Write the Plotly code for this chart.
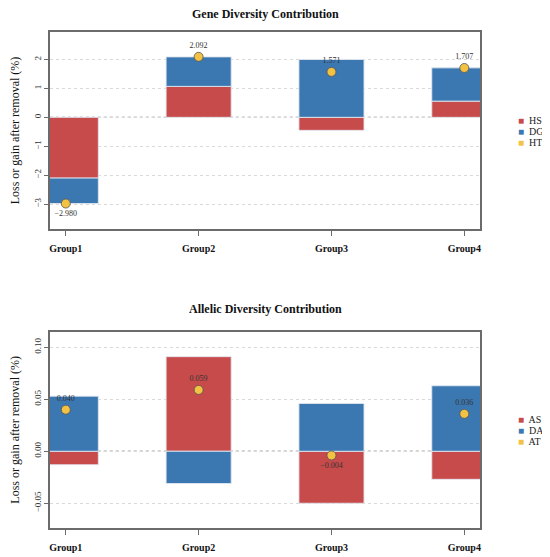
import plotly.graph_objects as go
from plotly.subplots import make_subplots

groups = ["Group1", "Group2", "Group3", "Group4"]

# gene diversity parts (%)
hs = [-2.10, 1.07, -0.45, 0.56]
dg = [-0.88, 1.02, 2.00, 1.15]
ht = [-2.980, 2.092, 1.571, 1.707]

# allelic diversity parts (%)
as_vals = [-0.013, 0.091, -0.050, -0.027]
da = [0.053, -0.031, 0.046, 0.063]
at = [0.040, 0.059, -0.004, 0.036]

gene_names = ["HS", "DG", "HT"]
allelic_names = ["AS", "DA", "AT"]

RED = "#C84B4C"
BLUE = "#3B78B2"
GOLD = "#F4C242"
EDGE = "rgba(225,232,240,0.9)"
FONT = "Liberation Serif, Times New Roman, serif"

# page body has an 8px margin, so the figure is a bit smaller than the window
PAD = 8
W, H = 550 - PAD, 557 - PAD


def px(x):
    return (x - PAD) / W


def py(y):
    return 1 - (y - PAD) / H


def fmt(v):
    return f"{v:.3f}".replace("-", "\u2212")


def add_panel(fig, row, s_vals, d_vals, t_vals, names):
    fig.add_trace(go.Bar(x=groups, y=s_vals, name=names[0], width=0.49,
                         marker=dict(color=RED, line=dict(color=EDGE, width=1)),
                         showlegend=False), row=row, col=1)
    fig.add_trace(go.Bar(x=groups, y=d_vals, name=names[1], width=0.49,
                         marker=dict(color=BLUE, line=dict(color=EDGE, width=1)),
                         showlegend=False), row=row, col=1)
    pos = ["top center" if v >= 0 else "bottom center" for v in t_vals]
    fig.add_trace(go.Scatter(x=groups, y=t_vals, name=names[2], mode="markers+text",
                             text=[fmt(v) for v in t_vals], textposition=pos,
                             textfont=dict(size=8, color="#333333", family=FONT),
                             marker=dict(size=9, color=GOLD, line=dict(color="#555555", width=0.8)),
                             showlegend=False, cliponaxis=False), row=row, col=1)


fig = make_subplots(rows=2, cols=1)
add_panel(fig, 1, hs, dg, ht, gene_names)
add_panel(fig, 2, as_vals, da, at, allelic_names)

xdom = [px(49), px(481)]
fig.update_layout(
    width=W, height=H,
    margin=dict(l=0, r=0, t=0, b=0),
    barmode="relative",
    plot_bgcolor="white", paper_bgcolor="white",
    font=dict(family=FONT, color="#222222"),
    xaxis=dict(domain=xdom, anchor="y"),
    xaxis2=dict(domain=xdom, anchor="y2"),
    yaxis=dict(domain=[py(229), py(32)], range=[-3.86, 2.95], dtick=1, anchor="x"),
    yaxis2=dict(domain=[py(528), py(331.7)], range=[-0.0738, 0.115], dtick=0.05,
                tickformat=".2f", anchor="x2"),
)

for ax in ["xaxis", "xaxis2"]:
    fig.layout[ax].update(range=[-0.12, 3.12], showline=True, mirror=True, linecolor="#6b6b6b",
                          linewidth=1.5, ticks="outside", ticklen=5, tickcolor="#6b6b6b",
                          showgrid=False, ticklabelstandoff=4,
                          tickfont=dict(size=10, weight="bold", color="#111111"))
for ax in ["yaxis", "yaxis2"]:
    fig.layout[ax].update(showline=True, mirror=True, linecolor="#6b6b6b", linewidth=1.5,
                          ticks="outside", ticklen=4, tickcolor="#6b6b6b", tickangle=-90,
                          showgrid=True, gridcolor="#dadada", griddash="dot", zeroline=False,
                          tickfont=dict(size=9, color="#333333"),
                          title=dict(text="Loss or gain after removal (%)",
                                     font=dict(size=12, color="#111111"), standoff=11))

# dotted zero reference lines
for yref, xref in [("y", "x domain"), ("y2", "x2 domain")]:
    fig.add_shape(type="line", xref=xref, x0=0, x1=1, yref=yref, y0=0, y1=0,
                  line=dict(color="#444444", width=1, dash="dot"), layer="below")

# panel titles
for text, ypx in [("Gene Diversity Contribution", 14.5), ("Allelic Diversity Contribution", 309)]:
    fig.add_annotation(text=f"<b>{text}</b>", xref="paper", yref="paper",
                       x=px(265), y=py(ypx), showarrow=False,
                       font=dict(size=12, color="#111111"), xanchor="center", yanchor="middle")

# legends
colors = [RED, BLUE, GOLD]
for names, ystart in [(gene_names, 120), (allelic_names, 419)]:
    for i, (nm, col) in enumerate(zip(names, colors)):
        fig.add_annotation(text=f"<span style='color:{col}'>\u25A0</span>  {nm}",
                           xref="paper", yref="paper", x=px(517), y=py(ystart + 11.2 * i),
                           xanchor="left", yanchor="middle", showarrow=False,
                           font=dict(size=10, color="#222222"))

fig.write_html("out.html")
